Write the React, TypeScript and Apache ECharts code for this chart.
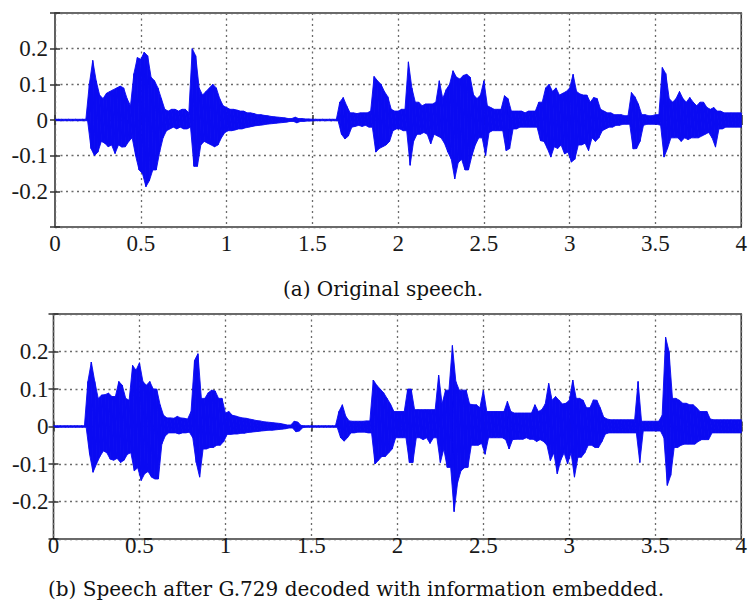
import React, { useEffect, useRef } from "react";
import * as echarts from "echarts";

// bin width (s) of the amplitude envelope
const BIN = 0.02;
const CAPTION_A = "(a) Original speech.";
const CAPTION_B = "(b) Speech after G.729 decoded with information embedded.";

// (a) original speech: upper / lower envelope per 0.02 s bin
const origHi = [
  0.002, 0.002, 0.002, 0.002, 0.002, 0.002, 0.002, 0.002, 0.002, 0.002,
  0.1, 0.167, 0.11, 0.07, 0.06, 0.075, 0.08, 0.085, 0.09, 0.095,
  0.09, 0.06, 0.04, 0.13, 0.175, 0.17, 0.19, 0.18, 0.12, 0.11,
  0.09, 0.06, 0.03, 0.025, 0.03, 0.03, 0.025, 0.03, 0.03, 0.02,
  0.2, 0.18, 0.09, 0.07, 0.08, 0.09, 0.1, 0.09, 0.06, 0.04,
  0.035, 0.03, 0.03, 0.028, 0.025, 0.025, 0.02, 0.02, 0.018, 0.015,
  0.015, 0.013, 0.012, 0.01, 0.009, 0.008, 0.007, 0.006, 0.004, 0.004,
  0.008, 0.004, 0.004, 0.003, 0.003, 0.002, 0.002, 0.002, 0.002, 0.002,
  0.002, 0.002, 0.002, 0.05, 0.063, 0.04, 0.02, 0.02, 0.018, 0.02,
  0.02, 0.02, 0.025, 0.122, 0.11, 0.1, 0.08, 0.065, 0.03, 0.025,
  0.025, 0.03, 0.03, 0.163, 0.09, 0.05, 0.05, 0.04, 0.045, 0.045,
  0.045, 0.05, 0.11, 0.06, 0.085, 0.1, 0.138, 0.12, 0.115, 0.125,
  0.128, 0.12, 0.07, 0.06, 0.07, 0.11, 0.04, 0.035, 0.03, 0.03,
  0.03, 0.068, 0.06, 0.025, 0.025, 0.025, 0.025, 0.02, 0.025, 0.025,
  0.025, 0.05, 0.05, 0.09, 0.1, 0.08, 0.09, 0.07, 0.075, 0.08,
  0.09, 0.128, 0.08, 0.073, 0.07, 0.07, 0.05, 0.063, 0.06, 0.03,
  0.025, 0.02, 0.02, 0.015, 0.015, 0.015, 0.012, 0.012, 0.077, 0.065,
  0.045, 0.015, 0.015, 0.012, 0.012, 0.015, 0.015, 0.147, 0.13, 0.06,
  0.05, 0.06, 0.08, 0.06, 0.05, 0.063, 0.05, 0.04, 0.05, 0.05,
  0.035, 0.03, 0.035, 0.025, 0.025, 0.02, 0.02, 0.02, 0.02, 0.02,
];
const origLo = [
  -0.002, -0.002, -0.002, -0.002, -0.002, -0.002, -0.002, -0.002, -0.002, -0.002,
  -0.08, -0.1, -0.09, -0.06, -0.065, -0.075, -0.07, -0.094, -0.07, -0.076,
  -0.075, -0.06, -0.05, -0.1, -0.14, -0.15, -0.187, -0.17, -0.14, -0.14,
  -0.09, -0.05, -0.03, -0.025, -0.02, -0.025, -0.02, -0.025, -0.025, -0.02,
  -0.13, -0.13, -0.07, -0.06, -0.065, -0.07, -0.075, -0.07, -0.05, -0.035,
  -0.03, -0.03, -0.028, -0.025, -0.025, -0.022, -0.02, -0.018, -0.016, -0.015,
  -0.014, -0.012, -0.011, -0.01, -0.009, -0.008, -0.007, -0.006, -0.004, -0.004,
  -0.008, -0.004, -0.004, -0.003, -0.003, -0.002, -0.002, -0.002, -0.002, -0.002,
  -0.002, -0.002, -0.002, -0.04, -0.053, -0.045, -0.02, -0.018, -0.015, -0.018,
  -0.015, -0.02, -0.02, -0.09, -0.08, -0.075, -0.07, -0.06, -0.03, -0.025,
  -0.025, -0.03, -0.03, -0.127, -0.06, -0.04, -0.04, -0.035, -0.04, -0.067,
  -0.04, -0.045, -0.05, -0.065, -0.09, -0.11, -0.165, -0.12, -0.11, -0.14,
  -0.14, -0.1, -0.07, -0.05, -0.05, -0.1, -0.035, -0.03, -0.03, -0.03,
  -0.03, -0.086, -0.08, -0.025, -0.025, -0.02, -0.02, -0.02, -0.02, -0.02,
  -0.02, -0.058, -0.06, -0.08, -0.104, -0.075, -0.08, -0.07, -0.095, -0.09,
  -0.118, -0.11, -0.07, -0.07, -0.065, -0.086, -0.05, -0.06, -0.05, -0.03,
  -0.025, -0.02, -0.02, -0.015, -0.015, -0.012, -0.012, -0.012, -0.081, -0.08,
  -0.06, -0.015, -0.012, -0.012, -0.012, -0.012, -0.015, -0.104, -0.08, -0.05,
  -0.05, -0.05, -0.06, -0.05, -0.055, -0.05, -0.05, -0.05, -0.045, -0.04,
  -0.035, -0.05, -0.076, -0.025, -0.025, -0.02, -0.02, -0.02, -0.02, -0.02,
];

// (b) decoded speech with information embedded
const decHi = [
  0.002, 0.002, 0.002, 0.002, 0.002, 0.002, 0.002, 0.002, 0.002, 0.002,
  0.12, 0.172, 0.12, 0.075, 0.084, 0.085, 0.089, 0.08, 0.08, 0.12,
  0.11, 0.075, 0.07, 0.163, 0.15, 0.17, 0.12, 0.11, 0.12, 0.1,
  0.1, 0.058, 0.03, 0.023, 0.023, 0.022, 0.027, 0.023, 0.022, 0.02,
  0.04, 0.176, 0.194, 0.075, 0.075, 0.09, 0.097, 0.095, 0.075, 0.075,
  0.036, 0.04, 0.03, 0.028, 0.025, 0.023, 0.022, 0.02, 0.018, 0.016,
  0.015, 0.013, 0.012, 0.011, 0.01, 0.009, 0.008, 0.006, 0.004, 0.004,
  0.014, 0.012, 0.003, 0.002, 0.002, 0.002, 0.002, 0.002, 0.002, 0.002,
  0.002, 0.002, 0.002, 0.04, 0.058, 0.027, 0.015, 0.014, 0.014, 0.014,
  0.014, 0.015, 0.015, 0.124, 0.11, 0.1, 0.09, 0.075, 0.06, 0.04,
  0.04, 0.04, 0.04, 0.1, 0.1, 0.045, 0.045, 0.045, 0.045, 0.045,
  0.045, 0.045, 0.137, 0.06, 0.097, 0.097, 0.216, 0.12, 0.097, 0.097,
  0.097, 0.06, 0.058, 0.058, 0.05, 0.097, 0.04, 0.04, 0.04, 0.04,
  0.04, 0.04, 0.067, 0.04, 0.036, 0.036, 0.036, 0.036, 0.036, 0.036,
  0.058, 0.04, 0.045, 0.06, 0.115, 0.07, 0.08, 0.07, 0.06, 0.062,
  0.07, 0.124, 0.075, 0.075, 0.07, 0.05, 0.05, 0.071, 0.07, 0.05,
  0.025, 0.02, 0.018, 0.018, 0.018, 0.018, 0.018, 0.018, 0.018, 0.018,
  0.12, 0.014, 0.014, 0.014, 0.014, 0.014, 0.014, 0.03, 0.238, 0.2,
  0.075, 0.075, 0.07, 0.062, 0.062, 0.058, 0.058, 0.05, 0.04, 0.04,
  0.04, 0.02, 0.018, 0.018, 0.018, 0.018, 0.018, 0.018, 0.018, 0.018,
];
const decLo = [
  -0.002, -0.002, -0.002, -0.002, -0.002, -0.002, -0.002, -0.002, -0.002, -0.002,
  -0.074, -0.122, -0.1, -0.08, -0.065, -0.07, -0.087, -0.09, -0.085, -0.096,
  -0.09, -0.074, -0.07, -0.118, -0.11, -0.144, -0.126, -0.12, -0.135, -0.14,
  -0.14, -0.047, -0.025, -0.017, -0.017, -0.017, -0.02, -0.017, -0.017, -0.015,
  -0.03, -0.096, -0.135, -0.06, -0.06, -0.056, -0.056, -0.05, -0.05, -0.04,
  -0.021, -0.021, -0.02, -0.02, -0.018, -0.018, -0.016, -0.015, -0.014, -0.013,
  -0.012, -0.011, -0.01, -0.01, -0.009, -0.008, -0.007, -0.006, -0.004, -0.004,
  -0.014, -0.012, -0.003, -0.002, -0.002, -0.002, -0.002, -0.002, -0.002, -0.002,
  -0.002, -0.002, -0.002, -0.03, -0.039, -0.03, -0.017, -0.017, -0.015, -0.015,
  -0.015, -0.017, -0.017, -0.1, -0.09, -0.08, -0.08, -0.07, -0.06, -0.03,
  -0.03, -0.03, -0.03, -0.096, -0.096, -0.03, -0.03, -0.035, -0.03, -0.045,
  -0.03, -0.03, -0.096, -0.06, -0.109, -0.109, -0.227, -0.15, -0.118, -0.11,
  -0.109, -0.05, -0.05, -0.05, -0.045, -0.074, -0.03, -0.03, -0.03, -0.03,
  -0.03, -0.035, -0.06, -0.035, -0.034, -0.034, -0.034, -0.03, -0.034, -0.034,
  -0.04, -0.035, -0.04, -0.05, -0.091, -0.07, -0.126, -0.09, -0.07, -0.1,
  -0.07, -0.135, -0.082, -0.082, -0.07, -0.05, -0.05, -0.056, -0.056, -0.04,
  -0.02, -0.017, -0.017, -0.017, -0.017, -0.017, -0.017, -0.017, -0.017, -0.017,
  -0.096, -0.012, -0.012, -0.012, -0.012, -0.012, -0.012, -0.03, -0.157, -0.13,
  -0.056, -0.056, -0.05, -0.047, -0.047, -0.047, -0.047, -0.04, -0.035, -0.035,
  -0.035, -0.017, -0.017, -0.017, -0.017, -0.017, -0.017, -0.017, -0.017, -0.017,
];

const BLUE = "#0a0af2";
const LABEL_FONT = "Liberation Serif";
const CAPTION_FONT = '"DejaVu Serif", serif';

const fmtX = (v: number) => String(Math.round(v * 10) / 10);
const fmtY = (v: number) => {
  const r = Math.round(v * 10) / 10;
  if (Math.abs(r) > 0.25) return "";
  return r === 0 ? "0" : r.toFixed(1);
};

// one quad per bin: upper extreme at bin start, lower extreme at bin middle,
// joined to the next bin -> solid envelope with spiky edges
function buildQuads(hi: number[], lo: number[]) {
  const out: number[][] = [];
  for (let i = 0; i < hi.length; i++) {
    const j = Math.min(i + 1, hi.length - 1);
    const t0 = i * BIN;
    const t1 = i + 1 < hi.length ? (i + 1) * BIN : t0 + BIN;
    out.push([t0, hi[i], t0 + BIN / 2, lo[i], t1, hi[j], t1 + BIN / 2, lo[j]]);
  }
  return out;
}

const renderQuad = (_params: any, api: any) => {
  const a = api.coord([api.value(0), api.value(1)]);
  const b = api.coord([api.value(4), api.value(5)]);
  const c = api.coord([Math.min(api.value(6), 4), api.value(7)]);
  const d = api.coord([api.value(2), api.value(3)]);
  return {
    type: "polygon",
    shape: { points: [a, b, c, d] },
    style: { fill: BLUE, stroke: BLUE, lineWidth: 0.9 },
  };
};

export default function App() {
  const ref = useRef<HTMLDivElement>(null);
  useEffect(() => {
    if (!ref.current) return;
    const chart = echarts.init(ref.current, undefined, { renderer: "svg" });

    const grids = [
      { left: 55, top: 13, width: 689, height: 214, labelMarginX: 5, labelMarginY: 7 },
      { left: 53.5, top: 314, width: 695, height: 225, labelMarginX: -5, labelMarginY: 5 },
    ];

    const xAxis: any[] = [];
    const yAxis: any[] = [];
    grids.forEach((g, gi) => {
      const tick = { show: true, inside: true, length: 5, lineStyle: { color: "#333", width: 1.5 } };
      const split = { show: true, lineStyle: { color: "#6a6a6a", type: [2, 3.5], width: 1.3 } };
      xAxis.push({
        gridIndex: gi, type: "value", min: 0, max: 4, interval: 0.5, position: "bottom",
        axisLine: { show: false }, axisTick: tick,
        axisLabel: { show: true, formatter: fmtX, margin: g.labelMarginX, fontFamily: LABEL_FONT, fontSize: 23, color: "#1a1a1a" },
        splitLine: split,
      });
      xAxis.push({
        gridIndex: gi, type: "value", min: 0, max: 4, interval: 0.5, position: "top",
        axisLine: { show: false }, axisTick: tick, axisLabel: { show: false }, splitLine: { show: false },
      });
      yAxis.push({
        gridIndex: gi, type: "value", min: -0.3, max: 0.3, interval: 0.1, position: "left",
        axisLine: { show: false }, axisTick: tick,
        axisLabel: { show: true, formatter: fmtY, margin: g.labelMarginY, fontFamily: LABEL_FONT, fontSize: 23, color: "#1a1a1a" },
        splitLine: split,
      });
      yAxis.push({
        gridIndex: gi, type: "value", min: -0.3, max: 0.3, interval: 0.1, position: "right",
        axisLine: { show: false }, axisTick: tick, axisLabel: { show: false }, splitLine: { show: false },
      });
    });

    const waveSeries = (name: string, axisIdx: number, hi: number[], lo: number[]) => ({
      type: "custom", name, xAxisIndex: axisIdx, yAxisIndex: axisIdx,
      data: buildQuads(hi, lo), renderItem: renderQuad, clip: true, silent: true,
      encode: { x: [0, 2, 4, 6], y: [1, 3, 5, 7] },
    });

    chart.setOption({
      animation: false,
      backgroundColor: "#ffffff",
      grid: grids.map((g) => ({
        left: g.left, top: g.top, width: g.width, height: g.height,
        show: true, borderColor: "#3a3a3a", borderWidth: 1.6, backgroundColor: "#ffffff",
      })),
      xAxis,
      yAxis,
      series: [
        waveSeries("Original", 0, origHi, origLo),
        waveSeries("Decoded", 2, decHi, decLo),
      ],
      graphic: [
        {
          type: "text", x: 383, y: 289,
          style: { text: CAPTION_A, font: `20px ${CAPTION_FONT}`, fill: "#111", textAlign: "center", textVerticalAlign: "middle" },
        },
        {
          type: "text", x: 356, y: 589,
          style: { text: CAPTION_B, font: `20px ${CAPTION_FONT}`, fill: "#111", textAlign: "center", textVerticalAlign: "middle" },
        },
      ],
    });
    return () => chart.dispose();
  }, []);

  return (
    <div
      ref={ref}
      style={{ position: "fixed", left: 0, top: 0, width: 750, height: 601, background: "#fff" }}
    />
  );
}
